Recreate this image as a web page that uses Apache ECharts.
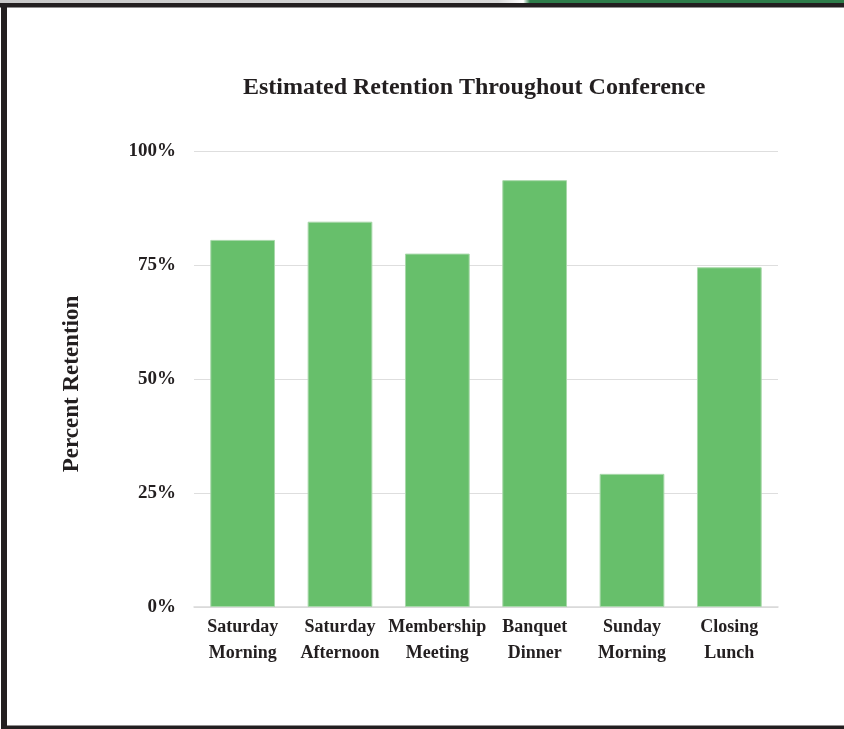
<!DOCTYPE html>
<html>
<head>
<meta charset="utf-8">
<script src="https://cdn.jsdelivr.net/npm/echarts@6/dist/echarts.min.js"></script>
<style>
html,body{margin:0;padding:0;background:#fff;}
#chart{width:844px;height:729px;}
</style>
</head>
<body>
<div id="chart"></div>
<script>
const categories = ['Saturday\nMorning','Saturday\nAfternoon','Membership\nMeeting','Banquet\nDinner','Sunday\nMorning','Closing\nLunch'];
const retention = [80.5, 84.5, 77.5, 93.6, 29.2, 74.5];
const yTicks = [0, 25, 50, 75, 100];

const FONT = '"Liberation Serif", "DejaVu Serif", serif';
const TXT = '#231f20';

const chart = echarts.init(document.getElementById('chart'), null, {renderer:'canvas'});
chart.setOption({
  animation: false,
  backgroundColor: '#fff',
  graphic: [
    {type:'rect', shape:{x:0,y:0,width:844,height:3}, style:{fill:new echarts.graphic.LinearGradient(0,0,1,0,[{offset:0,color:'#c8c8c8'},{offset:0.59,color:'#d8d8d8'},{offset:0.62,color:'#ffffff'},{offset:0.628,color:'#2e7d4a'},{offset:1,color:'#2e7d4a'}])}, silent:true},
    {type:'rect', shape:{x:0,y:3,width:844,height:4.5}, style:{fill:'#231f20'}, silent:true},
    {type:'rect', shape:{x:1,y:3,width:6,height:726}, style:{fill:'#231f20'}, silent:true},
    {type:'rect', shape:{x:1,y:725.5,width:843,height:4}, style:{fill:'#231f20'}, silent:true}
  ],
  title: {
    text: 'Estimated Retention Throughout Conference',
    left: 238, top: 71,
    textStyle: {fontFamily: FONT, fontWeight: 'bold', fontSize: 24, color: TXT}
  },
  grid: {left: 194, right: 66, top: 151, bottom: 122, containLabel: false},
  xAxis: {
    type: 'category',
    data: categories,
    axisTick: {show: false},
    axisLine: {lineStyle: {color: '#d9d9d9', width: 1.5}},
    axisLabel: {fontFamily: FONT, fontWeight: 'bold', fontSize: 18, color: TXT, lineHeight: 26, margin: 7, interval: 0}
  },
  yAxis: {
    type: 'value', min: 0, max: 100, interval: 25,
    name: 'Percent Retention', nameLocation: 'middle', nameGap: 110, nameRotate: 90,
    nameTextStyle: {fontFamily: FONT, fontWeight: 'bold', fontSize: 23, color: TXT, padding: [0, 10, 0, 0]},
    axisLabel: {formatter: v => yTicks.includes(v) ? v + '%' : '', fontFamily: FONT, fontWeight: 'bold', fontSize: 19, color: TXT, margin: 18, padding: [6, 0, 0, 0]},
    axisLine: {show: false}, axisTick: {show: false},
    splitLine: {lineStyle: {color: '#dedede', width: 1}}
  },
  series: [{
    type: 'bar',
    data: retention,
    barCategoryGap: '33.5%',
    itemStyle: {color: '#67bf6b', borderColor: '#a8d8aa', borderWidth: 1}
  }]
});
</script>
</body>
</html>
